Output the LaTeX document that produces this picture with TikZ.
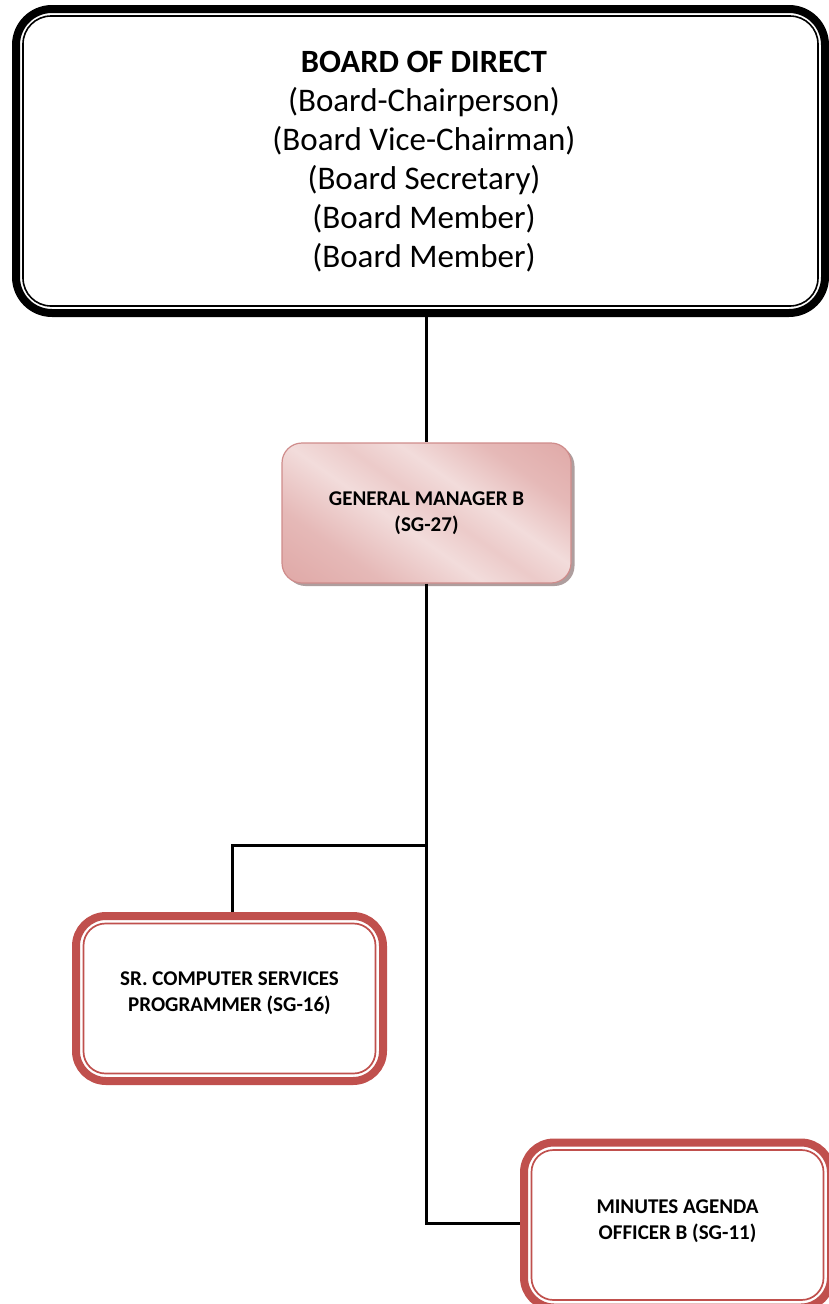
\documentclass[tikz,border=0pt]{standalone}
\usepackage{fontspec}
\setmainfont{Carlito}
\usetikzlibrary{calc}
\definecolor{ruby}{HTML}{C0504D}
\definecolor{rosedark}{HTML}{D99694}
\definecolor{roselight}{HTML}{F2DCDB}
\definecolor{roseedge}{HTML}{CF8C8B}
\pgfdeclarehorizontalshading{roseband}{100bp}{%
  color(0bp)=(rosedark); color(30bp)=(rosedark!50!roselight);
  color(44bp)=(roselight); color(52bp)=(rosedark!25!roselight);
  color(60bp)=(roselight); color(72bp)=(rosedark!50!roselight);
  color(100bp)=(rosedark)}
\tikzset{
  link/.style={line width=3pt},
  boardbox/.style={draw=black, line width=8pt, rounded corners=36pt,
    minimum width=809pt, minimum height=304pt, inner sep=0pt},
  gmbox/.style={draw=roseedge, line width=1.2pt, rounded corners=20pt,
    shading=roseband, shading angle=55, minimum width=289pt, minimum height=140pt},
  rolebox/.style={draw=ruby, line width=8pt, rounded corners=30pt, fill=white,
    minimum width=307pt, minimum height=165pt},
  roletext/.style={align=center, font=\fontsize{21}{26}\selectfont\bfseries},
}
\begin{document}
\begin{tikzpicture}[x=1pt,y=-1pt]
\useasboundingbox (0,0) rectangle (829,1304);
\clip (0,0) rectangle (829,1304);

% Board of directors (thick-thin frame; anchors sit on the outer edge of the stroke)
\node[boardbox] (board) at (420.5,161) {};
\draw[line width=1.6pt, rounded corners=28pt]
  ($(board.north west)+(11,11)$) rectangle ($(board.south east)+(-11,-11)$);
\node[font=\fontsize{32.5}{39}\selectfont\bfseries] (boardtitle) at (424,62) {BOARD OF DIRECT};
\node[font=\fontsize{33}{39}\selectfont, align=center] (boardlist)
  at (424,180) {(Board-Chairperson)\\(Board Vice-Chairman)\\(Board Secretary)\\(Board Member)\\(Board Member)};

% General manager
\fill[gray!70!rosedark, rounded corners=20pt, opacity=0.8] (285.5,446) rectangle (574.5,586);
\node[gmbox] (gm) at (426.5,513) {};
\node[roletext] (gmtext) at (426.5,513) {GENERAL MANAGER B\\(SG-27)};

% Subordinate roles
\node[rolebox] (prog) at (229.5,998.5) {};
\draw[ruby, line width=1.7pt, rounded corners=22pt]
  ($(prog.north west)+(11.5,11.5)$) rectangle ($(prog.south east)+(-11.5,-11.5)$);
\node[roletext] (progtext) at ($(prog.center)+(0,-5)$) {SR. COMPUTER SERVICES\\PROGRAMMER (SG-16)};
\node[rolebox] (mao) at (677.5,1225) {};
\draw[ruby, line width=1.7pt, rounded corners=22pt]
  ($(mao.north west)+(11.5,11.5)$) rectangle ($(mao.south east)+(-11.5,-11.5)$);
\node[roletext] (maotext) at ($(mao.center)+(0,-4)$) {MINUTES AGENDA\\OFFICER B (SG-11)};

% Connectors
\coordinate (split) at (426.5,845);
\coordinate (bend) at (426.5,1223);
\coordinate (progtop) at (232,845);
\draw[link] (board.south -| gm.north) -- (gm.north);
\draw[link] (gm.south) -- (split) -- (bend) -- (bend -| mao.west);
\draw[link] (split) -- (progtop) -- (progtop |- prog.north);
\end{tikzpicture}
\end{document}
